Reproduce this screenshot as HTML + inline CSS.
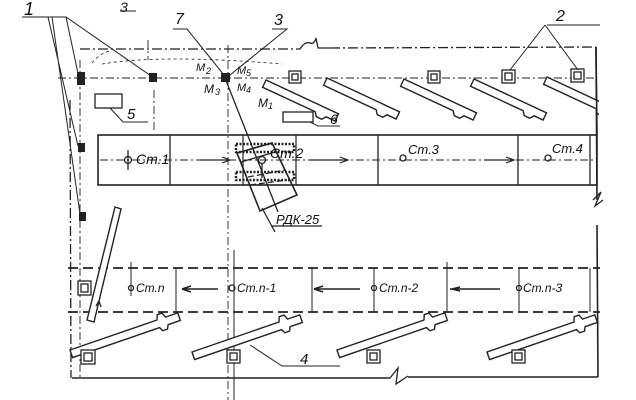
<!DOCTYPE html>
<html><head><meta charset="utf-8"><style>
html,body{margin:0;padding:0;background:#fff;}
svg{display:block;}
text{font-family:"Liberation Sans",sans-serif;font-style:italic;fill:#111;}
</style></head><body>
<svg width="636" height="400" viewBox="0 0 636 400" xmlns="http://www.w3.org/2000/svg">
<defs>
<path id="tb" d="M0 0 L80 0 L80 8 L70 8 L67 12 L61 12 L58 8 L0 8 Z"/>
<path id="lb" d="M0 0 L92 0 L94 -5 L99 -5 L101 0 L114 0 L114 8 L101 8 L99 12 L94 12 L92 8 L0 8 Z"/>
</defs>
<g stroke="#222" fill="none" stroke-width="1.3">
<path d="M80 49 L300 49 M330 48 L596 47" stroke-dasharray="10,3,2,3"/>
<path d="M300 49 q5 -8 10 -6 q4 2 6 -5 l2 10 l12 0"/>
<path d="M596 47 L597 200 M597 225 L598 377" stroke-width="1.6"/>
<path d="M593 200 l8 -8 l-6 14 l8 -6"/>
<path d="M70 100 L71 378" stroke-dasharray="10,3,2,3"/>
<path d="M72 378 L390 378 M408 377 L598 377" stroke-width="1.6"/>
<path d="M390 378 l8 -10 l-2 16 l12 -8"/>
<path d="M58 78 L596 78" stroke-dasharray="8,3,2,3" stroke-width="0.9"/>
<path d="M80 60 L80 380 M154 90 L154 130 M228 45 L228 400 M148 40 L148 60" stroke-dasharray="8,3,2,3" stroke-width="0.9"/>
<path d="M92 63 q8 -10 18 -12 M102 64 q60 -10 180 0" stroke-dasharray="3,3" stroke-width="0.8"/>
<rect x="98" y="135" width="499" height="50" stroke-width="1.6"/>
<path d="M170 135 V185 M378 135 V185 M518 135 V185 M590 135 V185"/>
<path d="M100 160 L597 160" stroke-dasharray="8,3,2,3" stroke-width="0.9"/>
<path d="M310 160 l38 0 M340 157 l8 3 l-8 3 M484 160 l30 0 M506 157 l8 3 l-8 3 M200 160 l30 0 M222 157 l8 3 l-8 3 M296 135 V185 M243 135 V185" stroke-width="1.2"/>
<circle cx="128" cy="160" r="3.5"/><circle cx="262" cy="160" r="3.5"/>
<circle cx="403" cy="158" r="3"/><circle cx="548" cy="158" r="3"/>
<path d="M128 150 V170"/>
<rect x="236" y="144" width="58" height="8" stroke-dasharray="2,1.5" stroke-width="2.5"/>
<rect x="236" y="172" width="58" height="8" stroke-dasharray="2,1.5" stroke-width="2.5"/>
<path d="M237 153 L272 143 L297 195 L260 211 Z" stroke-width="1.6"/>
<path d="M241 162 L275 152"/>
<path d="M248 177 L285 170 M250 185 L287 180" stroke-dasharray="6,3"/>
<path d="M262 163 V178"/>
<path d="M225 78 L278 212"/>
<path d="M262 208 L275 232 M272 226 L322 226"/>
<path d="M68 268 L600 268 M68 312 L600 312" stroke-dasharray="10,5" stroke-width="1.8"/>
<path d="M176 268 V312 M234 250 V400 M312 268 V312 M447 262 V312 M590 268 V312 M131 262 V296 M374 268 V312 M519 268 V312" stroke-width="1"/>
<circle cx="131" cy="288" r="2.5"/><circle cx="232" cy="288" r="3"/>
<circle cx="374" cy="288" r="2.5"/><circle cx="519" cy="288" r="2.5"/>
<path d="M182 289 L218 289 M182 289 l9 -3 M182 289 l9 3 M314 289 L360 289 M314 289 l9 -3 M314 289 l9 3 M450 289 L500 289 M452 289 l8 -2 M452 289 l8 2" stroke-width="1.5"/>
<g stroke-width="1.4" fill="#fff">
<use href="#tb" transform="translate(266,80) rotate(25)"/>
<use href="#tb" transform="translate(327,78) rotate(25)"/>
<use href="#tb" transform="translate(404,79) rotate(25)"/>
<use href="#tb" transform="translate(474,79) rotate(25)"/>
<use href="#tb" transform="translate(547,77) rotate(25)"/>
</g>
<rect x="599" y="60" width="37" height="90" fill="#fff" stroke="none"/>
<path d="M596 47 L597 135" stroke-width="1.6"/>
<g stroke-width="1.4" fill="#fff">
<use href="#lb" transform="translate(70,350) rotate(-19)"/>
<use href="#lb" transform="translate(192,352) rotate(-19)"/>
<use href="#lb" transform="translate(337,350) rotate(-19)"/>
<use href="#lb" transform="translate(487,352) rotate(-19)"/>
<path d="M115 207 L121 209 L94 322 L87 320 Z"/>
</g>
<rect x="600" y="290" width="36" height="50" fill="#fff" stroke="none"/>
<path d="M96 306 l3 -5 l2 6"/>
<g stroke-width="1.3" fill="#fff">
<rect x="289" y="71" width="12" height="12"/><rect x="292" y="74" width="6" height="6"/>
<rect x="428" y="71" width="12" height="12"/><rect x="431" y="74" width="6" height="6"/>
<rect x="502" y="70" width="13" height="13"/><rect x="505" y="73" width="7" height="7"/>
<rect x="571" y="69" width="13" height="13"/><rect x="574" y="72" width="7" height="7"/>
<rect x="78" y="281" width="13" height="14"/><rect x="81" y="284" width="7" height="8"/>
<rect x="81" y="350" width="14" height="14"/><rect x="84" y="353" width="8" height="8"/>
<rect x="227" y="350" width="13" height="13"/><rect x="230" y="353" width="7" height="7"/>
<rect x="367" y="350" width="13" height="13"/><rect x="370" y="353" width="7" height="7"/>
<rect x="512" y="350" width="13" height="13"/><rect x="515" y="353" width="7" height="7"/>
</g>
<g fill="#222" stroke="none">
<rect x="77" y="72" width="8" height="13"/><rect x="149" y="73" width="8" height="9"/>
<rect x="78" y="143" width="7" height="9"/><rect x="79" y="212" width="7" height="9"/>
<rect x="221" y="73" width="9" height="9"/>
</g>
<path d="M22 17 L66 17 L79 78 M48 17 L78 146 M52 17 L80 214 M54 17 L66 17 L154 78" stroke-width="1"/>
<path d="M173 29 L187 29 L224 75 M272 29 L287 29 L230 75" stroke-width="1"/>
<path d="M547 25 L600 25 M545 25 L510 70 M545 25 L578 70" stroke-width="1"/>
<rect x="95" y="94" width="27" height="14" fill="#fff"/>
<path d="M110 108 L123 122 L148 122" stroke-width="1"/>
<rect x="283" y="112" width="30" height="10" fill="#fff"/>
<path d="M310 122 L318 126 L340 126" stroke-width="1"/>
<path d="M250 345 L282 366 L340 366" stroke-width="1"/>
<path d="M120 11 L136 11" stroke-width="1"/>
</g>
<g font-size="14">
<text x="24" y="15" font-size="18">1</text>
<text x="120" y="12" font-size="14">3</text>
<text x="175" y="24" font-size="16">7</text>
<text x="274" y="25" font-size="16">3</text>
<text x="556" y="21" font-size="16">2</text>
<text x="127" y="119" font-size="15">5</text>
<text x="330" y="124" font-size="14">6</text>
<text x="300" y="364" font-size="15">4</text>
<text x="196" y="71" font-size="11">M</text><text x="206" y="74" font-size="9">2</text>
<text x="237" y="74" font-size="11">M</text><text x="246" y="76" font-size="9">5</text>
<text x="204" y="93" font-size="12">M</text><text x="215" y="95" font-size="9">3</text>
<text x="237" y="91" font-size="11">M</text><text x="246" y="93" font-size="9">4</text>
<text x="258" y="107" font-size="12">M</text><text x="268" y="109" font-size="9">1</text>
<text x="136" y="164">Ст.1</text>
<text x="270" y="158">Ст.2</text>
<text x="408" y="154" font-size="13">Ст.3</text>
<text x="552" y="153" font-size="13">Ст.4</text>
<text x="276" y="224" font-size="13">РДК-25</text>
<text x="136" y="292" font-size="12">Ст.n</text>
<text x="237" y="292" font-size="12">Ст.n-1</text>
<text x="379" y="292" font-size="12">Ст.n-2</text>
<text x="523" y="292" font-size="12">Ст.n-3</text>
</g>
</svg>
</body></html>
